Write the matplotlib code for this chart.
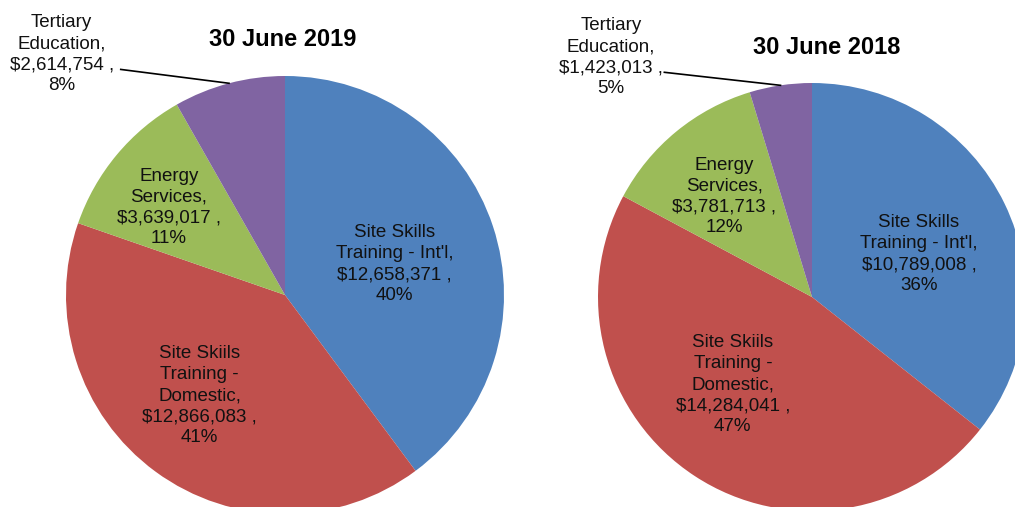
import numpy as np
import matplotlib
matplotlib.use("Agg")
import matplotlib.pyplot as plt

plt.rcParams["font.family"] = ["Liberation Sans", "DejaVu Sans"]

# Data
categories = [
    "Site Skills\nTraining - Int'l,",
    "Site Skiils\nTraining -\nDomestic,",
    "Energy\nServices,",
    "Tertiary\nEducation,",
]
values_2019 = [12658371, 12866083, 3639017, 2614754]
pct_2019 = [40, 41, 11, 8]
values_2018 = [10789008, 14284041, 3781713, 1423013]
pct_2018 = [36, 47, 12, 5]
titles = ["30 June 2019", "30 June 2018"]
colors = ["#4F81BD", "#C0504D", "#9BBB59", "#8064A2"]

W, H = 1015, 507
fig = plt.figure(figsize=(W / 100, H / 100), dpi=100)
fig.patch.set_facecolor("white")

# pie layout in pixels: centre x, centre y (from top), radius
layouts = [
    dict(cx=285, cy=295, r=219,
         lab=[(0.50, 0.14), (-0.39, -0.46), (-0.53, 0.40), (-1.02, 1.10)],
         lead=(-0.75, 1.03), title=(283, 40)),
    dict(cx=812, cy=297, r=214,
         lab=[(0.50, 0.20), (-0.37, -0.41), (-0.41, 0.47), (-0.94, 1.12)],
         lead=(-0.69, 1.05), title=(827, 48)),
]


def draw_pie(vals, pcts, title, lay):
    cx, cy, r = lay["cx"], lay["cy"], lay["r"]
    ax = fig.add_axes([(cx - r) / W, (H - cy - r) / H, 2 * r / W, 2 * r / H])
    wedges, _ = ax.pie(vals, colors=colors, startangle=90, counterclock=False,
                       radius=1.0, wedgeprops=dict(linewidth=0))
    ax.set_xlim(-1, 1)
    ax.set_ylim(-1, 1)
    ax.axis("off")
    for i, (name, v, p) in enumerate(zip(categories, vals, pcts)):
        txt = f"{name}\n${v:,} ,\n{p}%"
        x, y = lay["lab"][i]
        ax.text(x, y, txt, ha="center", va="center", fontsize=13.5,
                linespacing=1.3, color="#111111", clip_on=False)
    # leader line for the small outside label
    w = wedges[3]
    mid = np.deg2rad((w.theta1 + w.theta2) / 2)
    lx, ly = lay["lead"]
    ax.plot([np.cos(mid), lx], [np.sin(mid), ly], color="black", lw=1.2,
            clip_on=False)
    tx, ty = lay["title"]
    fig.text(tx / W, 1 - ty / H, title, ha="center", va="center",
             fontsize=17, fontweight="bold")


draw_pie(values_2019, pct_2019, titles[0], layouts[0])
draw_pie(values_2018, pct_2018, titles[1], layouts[1])

fig.savefig("out.png", dpi=100)
